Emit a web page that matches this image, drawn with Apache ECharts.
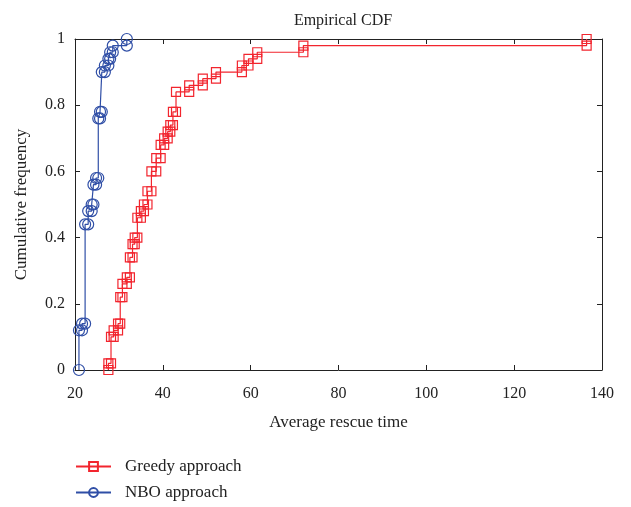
<!DOCTYPE html>
<html>
<head>
<meta charset="utf-8">
<script src="https://cdn.jsdelivr.net/npm/echarts@6/dist/echarts.min.js"></script>
<style>
  html, body { margin: 0; padding: 0; background: #fff; }
  #chart { width: 631px; height: 507px; }
</style>
</head>
<body>
<div id="chart"></div>
<script>
// step positions (x) and cumulative frequency after each step
const greedyX = [27.6, 28.2, 28.8, 29.8, 30.3, 30.8, 31.8, 32.5, 33.1, 33.6, 34.2, 35.0, 35.7,
  36.5, 37.4, 38.5, 39.5, 40.3, 41.1, 41.7, 42.3, 43.0, 46.0, 49.1, 52.1, 58.0, 59.5, 61.5, 72.0, 136.5];
const greedyY = [0.02, 0.10, 0.12, 0.14, 0.22, 0.26, 0.28, 0.34, 0.38, 0.40, 0.46, 0.48, 0.50,
  0.54, 0.60, 0.64, 0.68, 0.70, 0.72, 0.74, 0.78, 0.84, 0.86, 0.88, 0.90, 0.92, 0.94, 0.96, 0.98, 1.0];

const nboX = [20.9, 21.6, 22.3, 23.0, 23.8, 24.2, 24.8, 25.3, 25.7, 26.1, 26.8, 27.6, 28.0, 28.6, 31.8];
const nboY = [0.12, 0.14, 0.44, 0.48, 0.50, 0.56, 0.58, 0.76, 0.78, 0.90, 0.92, 0.94, 0.96, 0.98, 1.0];

const xTicks = { min: 20, max: 140, step: 20 };
const yTicks = { min: 0, max: 1, step: 0.2 };

// stairs vertices: (x_i, y_{i-1}) -> (x_i, y_i)
function stairs(xs, ys) {
  const pts = [];
  let prev = 0;
  for (let i = 0; i < xs.length; i++) {
    pts.push([xs[i], prev]);
    pts.push([xs[i], ys[i]]);
    prev = ys[i];
  }
  return pts;
}

const font = "Liberation Serif";
const axisColor = "#222";
const red = "#f2252e";
const blue = "#2f4ea6";

const chart = echarts.init(document.getElementById("chart"));

const baseX = {
  type: "value",
  min: xTicks.min,
  max: xTicks.max,
  interval: xTicks.step,
  splitLine: { show: false },
  axisLine: { onZero: false, lineStyle: { color: axisColor, width: 1 } },
  axisTick: { inside: true, length: 5, lineStyle: { color: axisColor } },
};
const baseY = {
  type: "value",
  min: yTicks.min,
  max: yTicks.max,
  interval: yTicks.step,
  splitLine: { show: false },
  axisLine: { onZero: false, lineStyle: { color: axisColor, width: 1 } },
  axisTick: { inside: true, length: 5, lineStyle: { color: axisColor } },
};

const legendText = { fontFamily: font, fontSize: 17, color: "#222", padding: [0, 0, 0, 9] };

chart.setOption({
  animation: false,
  title: {
    text: "Empirical CDF",
    left: 338,
    textAlign: "center",
    top: 8,
    textStyle: { fontFamily: font, fontSize: 16, fontWeight: "normal", color: "#222" },
  },
  grid: { left: 75, right: 29, top: 39, bottom: 137 },
  legend: [
    {
      left: 75, top: 458, padding: 0, itemWidth: 35, itemHeight: 11,
      textStyle: legendText, data: ["Greedy approach"],
    },
    {
      left: 75, top: 484, padding: 0, itemWidth: 35, itemHeight: 11,
      textStyle: legendText, data: ["NBO approach"],
    },
  ],
  xAxis: [
    Object.assign({}, baseX, {
      position: "bottom",
      name: "Average rescue time",
      nameLocation: "middle",
      nameGap: 44,
      nameTextStyle: { fontFamily: font, fontSize: 17, color: "#222" },
      axisLabel: { fontFamily: font, fontSize: 16, color: "#222", margin: 16 },
    }),
    Object.assign({}, baseX, { position: "top", axisLabel: { show: false } }),
  ],
  yAxis: [
    Object.assign({}, baseY, {
      position: "left",
      name: "Cumulative frequency",
      nameLocation: "middle",
      nameGap: 45,
      nameTextStyle: { fontFamily: font, fontSize: 17, color: "#222" },
      axisLabel: { fontFamily: font, fontSize: 16, color: "#222", margin: 10 },
    }),
    Object.assign({}, baseY, { position: "right", axisLabel: { show: false } }),
  ],
  series: [
    {
      name: "Greedy approach",
      type: "line",
      data: stairs(greedyX, greedyY),
      symbol: "rect",
      symbolSize: 9,
      showAllSymbol: true,
      lineStyle: { color: red, width: 1.2 },
      itemStyle: { color: "rgba(0,0,0,0)", borderColor: red, borderWidth: 1.2 },
    },
    {
      name: "NBO approach",
      type: "line",
      data: stairs(nboX, nboY),
      symbol: "circle",
      symbolSize: 11,
      showAllSymbol: true,
      lineStyle: { color: blue, width: 1.2 },
      itemStyle: { color: "rgba(0,0,0,0)", borderColor: blue, borderWidth: 1.2 },
    },
  ],
});
</script>
</body>
</html>
